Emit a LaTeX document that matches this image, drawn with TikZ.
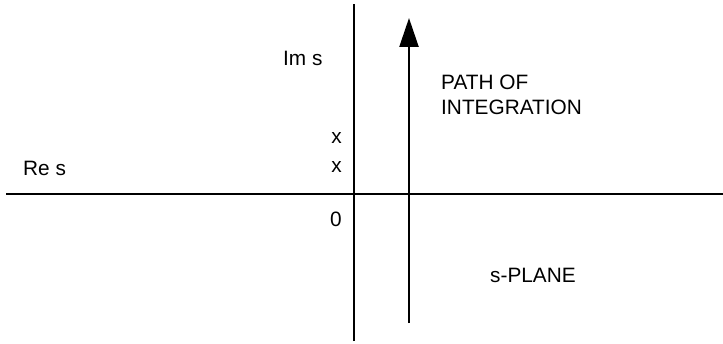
\documentclass[tikz,border=0pt]{standalone}
\usepackage{fontspec}
\setmainfont{Liberation Sans}
\usetikzlibrary{arrows.meta,positioning}

\begin{document}
\begin{tikzpicture}[
    x=1pt, y=1pt,
    axis/.style={line width=2.6pt},
    path/.style={line width=2.4pt, -{Triangle[width=19pt,length=29pt]}},
    lbl/.style={inner sep=0pt, font=\fontsize{20.8}{25}\selectfont}
  ]
    \useasboundingbox (0,0) rectangle (723,343);
    % axes
    \coordinate (reL) at (6,149);
    \coordinate (reR) at (723,149);
    \coordinate (imB) at (354,2);
    \coordinate (imT) at (354,339);
    \draw[axis] (reL) -- (reR);
    \draw[axis] (imB) -- (imT);
    % path of integration
    \coordinate (pB) at (409,20);
    \coordinate (pT) at (409,325);
    \draw[path] (pB) -- (pT);
    \node[lbl, anchor=base west] (im) at (283,277) {Im s};
    \node[lbl, anchor=base west] (re) at (23,167) {Re s};
    \node[lbl, anchor=base east] (x1) at (342,199) {x};
    \node[lbl, anchor=base east] (x2) at (342,170) {x};
    \node[lbl, anchor=base east] (zero) at (342,116) {0};
    \node[lbl, anchor=base west, align=left] (poi) at (441,228) {PATH OF\\INTEGRATION};
    \node[lbl, anchor=base west] (sp) at (490,61) {s-PLANE};
  \end{tikzpicture}
\end{document}
